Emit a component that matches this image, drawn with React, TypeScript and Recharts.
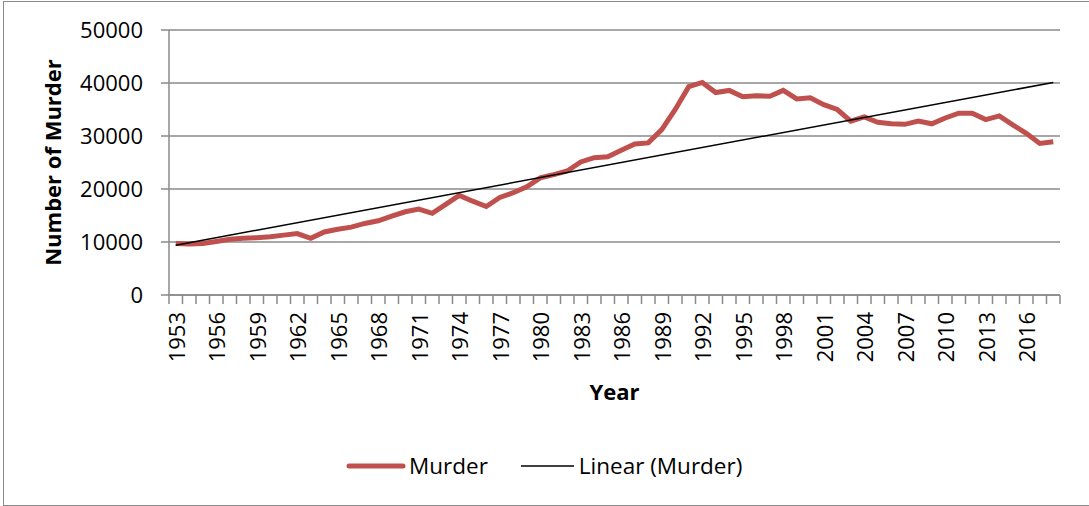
import { LineChart, Line, XAxis, YAxis, CartesianGrid, Legend } from "recharts";

const years = [
  1953, 1954, 1955, 1956, 1957, 1958, 1959, 1960, 1961, 1962, 1963, 1964,
  1965, 1966, 1967, 1968, 1969, 1970, 1971, 1972, 1973, 1974, 1975, 1976,
  1977, 1978, 1979, 1980, 1981, 1982, 1983, 1984, 1985, 1986, 1987, 1988,
  1989, 1990, 1991, 1992, 1993, 1994, 1995, 1996, 1997, 1998, 1999, 2000,
  2001, 2002, 2003, 2004, 2005, 2006, 2007, 2008, 2009, 2010, 2011, 2012,
  2013, 2014, 2015, 2016, 2017, 2018,
];

const murder = [
  9700, 9600, 9700, 10100, 10500, 10700, 10800, 11000, 11300, 11600, 10700, 11900,
  12400, 12800, 13500, 14000, 14900, 15700, 16200, 15400, 17100, 18800, 17700, 16700,
  18400, 19300, 20400, 22100, 22700, 23400, 25100, 25900, 26100, 27300, 28500, 28700,
  31200, 35000, 39300, 40100, 38200, 38600, 37400, 37600, 37500, 38600, 37000, 37200,
  35900, 35000, 32800, 33600, 32600, 32300, 32200, 32800, 32300, 33400, 34300, 34300,
  33100, 33800, 32100, 30500, 28600, 28900,
];

// Excel linear trendline, read at its two ends
const trendYears = [1953, 2018];
const trendValues = [9400, 40100];

const yTicks = [0, 10000, 20000, 30000, 40000, 50000];
const xLabelYears = [
  1953, 1956, 1959, 1962, 1965, 1968, 1971, 1974, 1977, 1980, 1983, 1986,
  1989, 1992, 1995, 1998, 2001, 2004, 2007, 2010, 2013, 2016,
];

const RED = "#C0504D";
const GRID = "#8a8a8a";
const FONT = "'Open Sans', sans-serif";

const rows = years.map((yr, i) => {
  const t = trendYears.indexOf(yr);
  return { year: yr, murder: murder[i], trend: t >= 0 ? trendValues[t] : null };
});

// tick marks sit between categories, like Excel
const boundaries = [...years.map((y) => y - 0.5), years[years.length - 1] + 0.5];
const domain = [boundaries[0], boundaries[boundaries.length - 1]];

function NoTick() {
  return <g />;
}

function YearTick(props: any) {
  const { x, y, payload } = props;
  return (
    <text
      transform={`translate(${x},${y}) rotate(-90)`}
      textAnchor="end"
      dominantBaseline="central"
      fontFamily={FONT}
      fontSize={22}
      fill="#000"
    >
      {payload.value}
    </text>
  );
}

function YTitle(props: any) {
  const { viewBox } = props;
  const cx = viewBox.x + 52;
  const cy = viewBox.y + viewBox.height / 2;
  return (
    <text
      transform={`translate(${cx},${cy}) rotate(-90)`}
      textAnchor="middle"
      dominantBaseline="central"
      fontFamily={FONT}
      fontWeight="bold"
      fontSize={22}
      fill="#000"
    >
      Number of Murder
    </text>
  );
}

function XTitle(props: any) {
  const { viewBox } = props;
  return (
    <text
      x={viewBox.x + viewBox.width / 2}
      y={viewBox.y + 95}
      textAnchor="middle"
      dominantBaseline="central"
      fontFamily={FONT}
      fontWeight="bold"
      fontSize={22}
      fill="#000"
    >
      Year
    </text>
  );
}

function LegendBox() {
  return (
    <div style={{ display: "flex", alignItems: "center", fontFamily: FONT, fontSize: 22.5, color: "#000" }}>
      <svg width={60} height={10} style={{ marginRight: 3 }}>
        <line x1={3} y1={5} x2={57} y2={5} stroke={RED} strokeWidth={5} strokeLinecap="round" />
      </svg>
      <span>Murder</span>
      <svg width={54} height={10} style={{ marginLeft: 33, marginRight: 4 }}>
        <line x1={0} y1={5} x2={53} y2={5} stroke="#000" strokeWidth={1.5} />
      </svg>
      <span>Linear (Murder)</span>
    </div>
  );
}

export default function App() {
  return (
    <div style={{ position: "absolute", left: 0, top: 0, width: 1089, height: 506, background: "#fff" }}>
      <div
        style={{
          position: "absolute",
          left: 3,
          top: 1,
          width: 1090,
          height: 503,
          border: `1.5px solid ${GRID}`,
        }}
      />
      <LineChart
        width={1089}
        height={506}
        data={rows}
        margin={{ top: 30, right: 29, left: 0, bottom: 30 }}
        style={{ position: "absolute", left: 0, top: 0 }}
      >
        <CartesianGrid vertical={false} stroke={GRID} strokeWidth={1.5} />
        <XAxis
          xAxisId="a"
          dataKey="year"
          type="number"
          domain={domain}
          ticks={boundaries}
          interval={0}
          tick={<NoTick />}
          tickSize={9}
          tickLine={{ stroke: GRID, strokeWidth: 1.5 }}
          axisLine={{ stroke: GRID, strokeWidth: 1.5 }}
          height={1}
          allowDataOverflow
        />
        <XAxis
          xAxisId="b"
          dataKey="year"
          type="number"
          domain={domain}
          ticks={xLabelYears}
          interval={0}
          tick={<YearTick />}
          tickSize={0}
          tickMargin={16}
          tickLine={false}
          axisLine={false}
          height={149}
          label={<XTitle />}
          allowDataOverflow
        />
        <YAxis
          domain={[0, 50000]}
          ticks={yTicks}
          interval={0}
          width={169}
          tickSize={8}
          tickMargin={18}
          tickLine={{ stroke: GRID, strokeWidth: 1.5 }}
          axisLine={{ stroke: GRID, strokeWidth: 1.5 }}
          tick={{ fontFamily: FONT, fontSize: 22, fill: "#000" }}
          label={<YTitle />}
        />
        <Legend
          verticalAlign="bottom"
          wrapperStyle={{ position: "absolute", left: 346, top: 450, width: "auto", bottom: "auto" }}
          content={<LegendBox />}
        />
        <Line
          xAxisId="b"
          dataKey="murder"
          type="linear"
          stroke={RED}
          strokeWidth={5}
          dot={false}
          activeDot={false}
          isAnimationActive={false}
        />
        <Line
          xAxisId="b"
          dataKey="trend"
          type="linear"
          stroke="#000"
          strokeWidth={1.5}
          dot={false}
          activeDot={false}
          connectNulls
          isAnimationActive={false}
        />
      </LineChart>
    </div>
  );
}
